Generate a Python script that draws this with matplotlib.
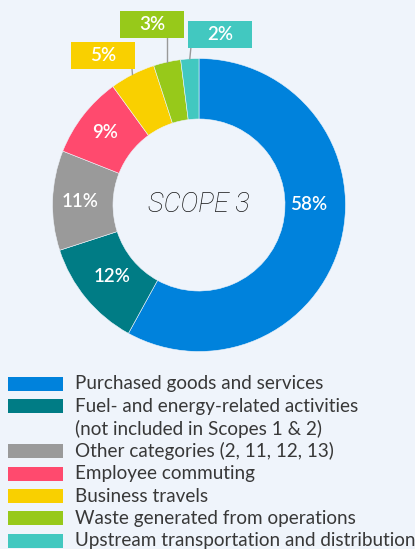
import matplotlib
matplotlib.use("Agg")
import matplotlib.pyplot as plt
from matplotlib.patches import Rectangle
import numpy as np

# ---- data ----
categories = [
    "Purchased goods and services",
    "Fuel- and energy-related activities\n(not included in Scopes 1 & 2)",
    "Other categories (2, 11, 12, 13)",
    "Employee commuting",
    "Business travels",
    "Waste generated from operations",
    "Upstream transportation and distribution",
]
values = [58, 12, 11, 9, 5, 3, 2]
value_labels = ["58%", "12%", "11%", "9%", "5%", "3%", "2%"]
center_title = "SCOPE 3"

# ---- style ----
colors = ["#0082dc", "#007c85", "#9a9a9a", "#ff4a6e", "#f9d000", "#97c91a", "#42c8c0"]
bg = "#eff4fb"
# label placement: (angle override in degrees or None, radius, boxed)
label_layout = [
    (0.0, 0.75, False),
    (None, 0.77, False),
    (None, 0.81, False),
    (None, 0.81, False),
    (122.8, 1.21, True),
    (104.6, 1.275, True),
    (83.0, 1.17, True),
]

W, H = 415, 549
fig = plt.figure(figsize=(W / 100, H / 100), dpi=100, facecolor=bg)
cx, cy, R = 199, 205, 146.5
ax = fig.add_axes([(cx - R) / W, (H - cy - R) / H, 2 * R / W, 2 * R / H])
ax.set_facecolor(bg)

wedges, _ = ax.pie(values, colors=colors, startangle=90, counterclock=False,
                   radius=1.0, wedgeprops=dict(width=1 - 86 / R, edgecolor=bg, linewidth=0.4))
ax.set_xlim(-1, 1)
ax.set_ylim(-1, 1)
ax.set_aspect("equal")
ax.axis("off")

font = "Lato"
for w, lab, (ang, r, boxed) in zip(wedges, value_labels, label_layout):
    mid = (w.theta1 + w.theta2) / 2.0
    a = mid if ang is None else ang
    x, y = r * np.cos(np.radians(a)), r * np.sin(np.radians(a))
    if boxed:
        bw, bh = 64 / R, 27 / R
        ex, ey = np.cos(np.radians(mid)), np.sin(np.radians(mid))
        bx = np.clip(ex, x - bw / 2 + 0.02, x + bw / 2 - 0.02)
        ax.plot([ex, bx], [ey, y - bh / 2], color="#999999", lw=1.0, clip_on=False, zorder=1)
        ax.add_patch(Rectangle((x - bw / 2, y - bh / 2), bw, bh, facecolor=w.get_facecolor(),
                               edgecolor="none", clip_on=False, zorder=2))
    ax.text(x, y, lab, ha="center", va="center", color="white", fontsize=13.5,
            fontweight="semibold", family=font, zorder=3, clip_on=False)

ax.text(0, 0, center_title, ha="center", va="center", fontsize=19.5, style="italic",
        fontweight="light", color="#151515", family="Roboto")

# ---- legend (manual) ----
y0, step = 384, 22.4
line = 0
for col, cat in zip(colors, categories):
    yy = y0 + step * line
    fig.patches.append(Rectangle((8 / W, 1 - (yy + 7) / H), 55 / W, 14 / H,
                                 transform=fig.transFigure, facecolor=col, edgecolor="none"))
    for k, part in enumerate(cat.split("\n")):
        fig.text(75 / W, 1 - (y0 + step * (line + k)) / H, part, ha="left", va="center",
                 fontsize=13.6, color="#383838", family=font)
    line += len(cat.split("\n"))

fig.savefig("out.png", dpi=100, facecolor=bg)
